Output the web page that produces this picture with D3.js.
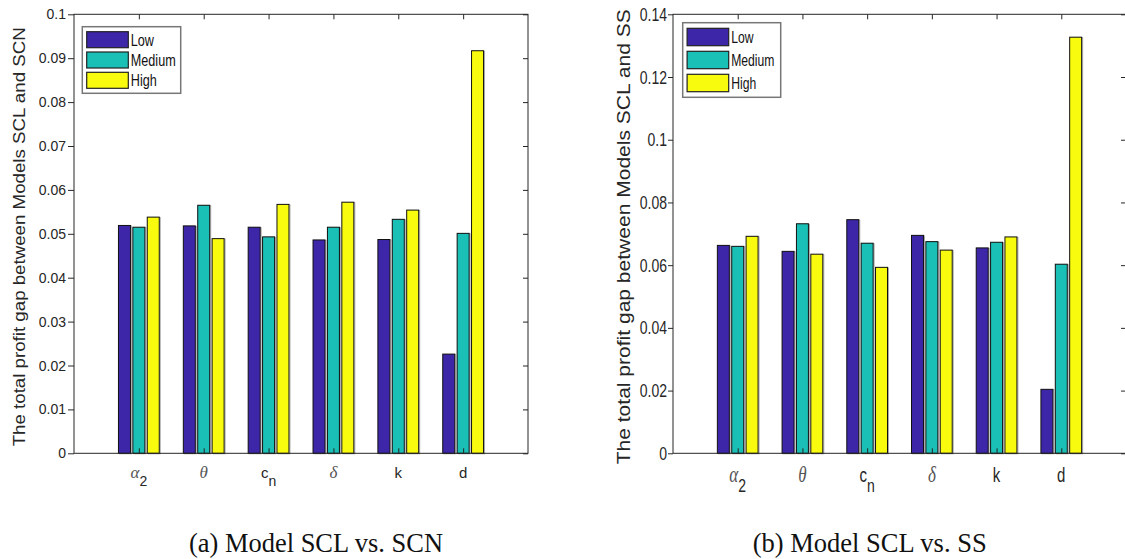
<!DOCTYPE html>
<html><head><meta charset="utf-8">
<script src="https://cdn.jsdelivr.net/npm/d3@7"></script>
<style>body{margin:0;background:#fff} svg{display:block}</style>
</head><body><svg id="c" width="1125" height="559"></svg>
<script>
// ---- data ----
const categories = ["alpha_2", "theta", "c_n", "delta", "k", "d"];
const catMain = ["\u03B1", "\u03B8", "c", "\u03B4", "k", "d"];
const catSub = ["2", "", "n", "", "", ""];
const catGreek = [true, true, false, true, false, false];
const seriesNames = ["Low", "Medium", "High"];

const scnLow    = [0.0519, 0.0518, 0.0515, 0.0486, 0.0487, 0.0226];
const scnMedium = [0.0515, 0.0565, 0.0493, 0.0515, 0.0533, 0.0501];
const scnHigh   = [0.0538, 0.0489, 0.0567, 0.0572, 0.0554, 0.0917];

const ssLow     = [0.0663, 0.0644, 0.0745, 0.0695, 0.0655, 0.0204];
const ssMedium  = [0.0660, 0.0732, 0.0670, 0.0675, 0.0673, 0.0603];
const ssHigh    = [0.0692, 0.0635, 0.0593, 0.0648, 0.0690, 0.1327];

const scnTicks = [0, 0.01, 0.02, 0.03, 0.04, 0.05, 0.06, 0.07, 0.08, 0.09, 0.1];
const ssTicks  = [0, 0.02, 0.04, 0.06, 0.08, 0.1, 0.12, 0.14];

const yLabelA = "The total profit gap between Models SCL and SCN";
const yLabelB = "The total profit gap between Models SCL and SS";
const captionA = "(a) Model SCL vs. SCN";
const captionB = "(b) Model SCL vs. SS";

const colors = ["#3E26A8", "#1ABFB5", "#F9FB0E"];

// ---- drawing ----
const svg = d3.select("#c");
const fmt = d => String(+d.toFixed(2));

function stext(parent, x, y, sx, sy) {
  const g = parent.append("g").attr("transform", `translate(${x},${y})`);
  return g.append("text").attr("transform", `scale(${sx},${sy})`);
}

function panel(cfg) {
  const g = svg.append("g");
  const x = d3.scaleLinear().domain([0, 7]).range([cfg.x0, cfg.x1]);
  const y = d3.scaleLinear().domain([0, cfg.ymax]).range([cfg.y1, cfg.y0]);
  const bw = 0.185, offs = [-0.222, 0, 0.222];
  const series = cfg.series;

  // bars
  series.forEach((vals, si) => {
    const sg = g.append("g");
    sg.selectAll("rect.sh").data(vals).join("rect")
      .attr("x", (d, i) => x(i + 1 + offs[si] - bw / 2) + 1)
      .attr("y", d => y(d) + 0.5)
      .attr("width", x(bw) - x(0))
      .attr("height", d => y(0) - y(d))
      .attr("fill", "none").attr("stroke", "#aaa").attr("stroke-width", 1);
    sg.selectAll("rect.b").data(vals).join("rect")
      .attr("x", (d, i) => x(i + 1 + offs[si] - bw / 2))
      .attr("y", d => y(d))
      .attr("width", x(bw) - x(0))
      .attr("height", d => y(0) - y(d))
      .attr("fill", colors[si]).attr("stroke", "#111").attr("stroke-width", 1);
  });

  // axes (ticks)
  const axL = g.append("g").attr("transform", `translate(${cfg.x0},0)`)
    .call(d3.axisLeft(y).tickValues(cfg.ticks).tickSizeInner(cfg.outTick).tickSizeOuter(0).tickFormat(""));
  const axR = g.append("g").attr("transform", `translate(${cfg.x1},0)`)
    .call(d3.axisRight(y).tickValues(cfg.ticks).tickSizeInner(-5).tickSizeOuter(0).tickFormat(""));
  const axB = g.append("g").attr("transform", `translate(0,${cfg.y1})`)
    .call(d3.axisBottom(x).tickValues([1, 2, 3, 4, 5, 6]).tickSizeInner(-5).tickSizeOuter(0).tickFormat(""));
  const axT = g.append("g").attr("transform", `translate(0,${cfg.y0})`)
    .call(d3.axisTop(x).tickValues([1, 2, 3, 4, 5, 6]).tickSizeInner(-5).tickSizeOuter(0).tickFormat(""));
  [axL, axR, axB, axT].forEach(a => {
    a.select(".domain").remove();
    a.selectAll("line").attr("stroke", "#262626").attr("stroke-width", 1);
  });
  g.append("rect").attr("x", cfg.x0).attr("y", cfg.y0)
    .attr("width", cfg.x1 - cfg.x0).attr("height", cfg.y1 - cfg.y0)
    .attr("fill", "none").attr("stroke", "#262626").attr("stroke-width", 1);

  // y tick labels
  cfg.ticks.forEach(t => {
    stext(g, cfg.x0 - cfg.labGap, y(t) + 5 * cfg.tsy, 1, cfg.tsy)
      .attr("text-anchor", "end").attr("font-family", "Liberation Sans, Arial, sans-serif")
      .attr("font-size", 14).attr("fill", "#262626").text(fmt(t));
  });

  // x category labels
  categories.forEach((c, i) => {
    const t = stext(g, x(i + 1), cfg.xlabY, 1, cfg.tsy)
      .attr("text-anchor", "middle").attr("font-size", 15).attr("fill", "#262626");
    const m = t.append("tspan").text(catMain[i]);
    if (catGreek[i]) {
      m.attr("font-family", "Liberation Serif, serif").attr("font-style", "italic").attr("fill", "#555").attr("font-size", 17);
    } else {
      m.attr("font-family", "Liberation Sans, Arial, sans-serif");
    }
    if (catSub[i]) {
      t.append("tspan").attr("dy", 8).attr("font-family", "Liberation Sans, Arial, sans-serif")
        .attr("font-size", 14).attr("fill", "#262626").text(catSub[i]);
    }
  });

  // y label
  g.append("text")
    .attr("transform", `translate(${cfg.ylabX},${(cfg.y0 + cfg.y1) / 2 + 3}) rotate(-90)`)
    .attr("text-anchor", "middle").attr("font-family", "Liberation Sans, Arial, sans-serif")
    .attr("font-size", cfg.ylabSize).attr("fill", "#262626")
    .attr("textLength", cfg.ylabLen).attr("lengthAdjust", "spacingAndGlyphs")
    .text(cfg.ylab);

  // legend
  const L = cfg.legend;
  g.append("rect").attr("x", L.x).attr("y", L.y).attr("width", L.w).attr("height", L.h)
    .attr("fill", "#fff").attr("stroke", "#777").attr("stroke-width", 1.5);
  seriesNames.forEach((s, si) => {
    const yy = L.sy0 + si * L.step;
    g.append("rect").attr("x", L.x + 4.4).attr("y", yy).attr("width", 41.6).attr("height", L.sh)
      .attr("fill", colors[si]).attr("stroke", "#222").attr("stroke-width", 1.2);
    stext(g, L.x + 48.5, yy + L.sh / 2 + 5.9, L.tsx, 1)
      .attr("font-family", "Liberation Sans, Arial, sans-serif").attr("font-size", 16)
      .attr("fill", "#111").text(s);
  });

  // caption
  g.append("text").attr("x", cfg.capX).attr("y", 552)
    .attr("font-family", "Liberation Serif, 'Times New Roman', serif").attr("font-size", 28)
    .attr("fill", "#111").attr("textLength", cfg.capLen).attr("lengthAdjust", "spacingAndGlyphs")
    .text(cfg.caption);
}

panel({
  x0: 74, x1: 528, y0: 14.3, y1: 453.3, ymax: 0.1, ticks: scnTicks,
  series: [scnLow, scnMedium, scnHigh], outTick: 6, labGap: 8, tsy: 1,
  xlabY: 478, ylab: yLabelA, ylabX: 25, ylabSize: 16.5, ylabLen: 419,
  legend: { x: 82.3, y: 26.7, w: 98.4, h: 66.6, sy0: 31.7, step: 20.3, sh: 16, tsx: 0.79 },
  caption: captionA, capX: 189, capLen: 254
});
panel({
  x0: 673, x1: 1126, y0: 14.3, y1: 453.3, ymax: 0.14, ticks: ssTicks,
  series: [ssLow, ssMedium, ssHigh], outTick: 5, labGap: 6, tsy: 1.3,
  xlabY: 482, ylab: yLabelB, ylabX: 630, ylabSize: 19, ylabLen: 455,
  legend: { x: 682.7, y: 22.7, w: 98, h: 74.6, sy0: 28.3, step: 23, sh: 17.4, tsx: 0.76 },
  caption: captionB, capX: 752.7, capLen: 234
});
</script>
</body></html>
